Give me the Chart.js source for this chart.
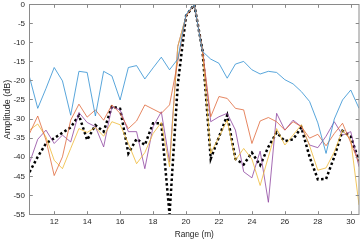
<!DOCTYPE html>
<html><head><meta charset="utf-8">
<script src="https://cdn.jsdelivr.net/npm/chart.js@4"></script>
<style>html,body{margin:0;padding:0;background:#fff}canvas{display:block}</style>
</head><body>
<canvas id="c" width="360" height="240"></canvas>
<script>
const rangeM = [10.5,11,11.5,12,12.5,13,13.5,14,14.5,15,15.5,16,16.5,17,17.5,18,18.5,19,19.5,20,20.5,21,21.5,22,22.5,23,23.5,24,24.5,25,25.5,26,26.5,27,27.5,28,28.5,29,29.5,30,30.5];
const seriesBlue = [-19,-27.2,-22,-16.5,-20,-29,-17.5,-17.8,-29.2,-17.5,-18.7,-25,-16.5,-16,-19.5,-16.6,-13.8,-17.1,-14.3,-2.6,0,-12.3,-14.3,-15.4,-19.3,-15.6,-14.9,-17.1,-18.2,-17.5,-17.8,-19.7,-20.8,-22.8,-25.4,-31,-39,-30,-25,-22.4,-27.2];
const seriesRed = [-33.8,-29.2,-35.5,-44.8,-39.9,-30.3,-26.1,-29.5,-27.6,-30.3,-26.3,-28.5,-32.5,-30.5,-26.3,-27.4,-28.5,-26.3,-15,-3,0,-12,-29.4,-24.1,-24.6,-27.2,-27.6,-36.4,-30.5,-29.6,-30.7,-32.9,-30.7,-32,-35,-34,-37,-33.8,-31.1,-36.2,-41.5];
const seriesYellow = [-32.9,-31.3,-34.7,-40.8,-43,-37.7,-32.5,-33.5,-32.2,-34.5,-30.7,-31.5,-36.4,-41.7,-38.8,-33.8,-30.9,-42.5,-11,-3,0,-12,-39,-34.7,-30.3,-40.8,-37.7,-40.5,-47.4,-39.9,-32.5,-36.8,-34.2,-31.5,-37,-43.4,-42.8,-38.6,-32.9,-35.5,-52.5];
const seriesPurple = [-41.5,-35.3,-32.9,-36.4,-34.2,-36,-28.3,-30.9,-32,-37.3,-26.8,-27.6,-33.3,-33.3,-43,-32,-28.1,-41.2,-11,-3,0,-12,-30.7,-29.4,-28.5,-32.9,-43.8,-45.4,-38.4,-51.8,-28.5,-32.9,-30.3,-32,-36.8,-37.5,-34.5,-30.7,-34.2,-33.3,-42.5];
const seriesBlack = [-43.9,-39.9,-36.4,-35,-33.6,-32.2,-29,-35.5,-31.6,-33.3,-26.7,-27.3,-39,-35.2,-36.8,-31.1,-31.1,-55,-21,-3,0,-12,-40.4,-34.7,-29,-40.4,-41.9,-38.8,-42.1,-37.3,-33.5,-35.8,-35.3,-32.2,-39.9,-45.8,-45.7,-39.9,-33.1,-34.6,-41];
const xTicks = [12,14,16,18,20,22,24,26,28,30];
const yTicks = [-55,-50,-45,-40,-35,-30,-25,-20,-15,-10,-5,0];

const pts = arr => arr.map((v,i)=>({x:rangeM[i], y:v}));
const FAM = '"Liberation Sans", Arial, Helvetica, sans-serif';
const FONT = {family:FAM, size:8};
const TXT = '#262626';

const boxPlugin = {
  id:'box',
  afterDatasetsDraw(chart){
    const {ctx, chartArea:a, scales:{x,y}} = chart;
    ctx.save();
    ctx.strokeStyle = '#8a8a8a';
    ctx.lineWidth = 1;
    ctx.strokeRect(a.left, a.top, a.right-a.left, a.bottom-a.top);
    const tl = 3.3;
    ctx.beginPath();
    xTicks.forEach(v=>{
      const px = Math.round(x.getPixelForValue(v))+0.5;
      ctx.moveTo(px,a.bottom); ctx.lineTo(px,a.bottom-tl);
      ctx.moveTo(px,a.top); ctx.lineTo(px,a.top+tl);
    });
    yTicks.forEach(v=>{
      const py = Math.round(y.getPixelForValue(v)-0.5)+0.5;
      ctx.moveTo(a.left,py); ctx.lineTo(a.left+tl,py);
      ctx.moveTo(a.right,py); ctx.lineTo(a.right-tl,py);
    });
    ctx.stroke();
    ctx.restore();
  }
};

const thin = (data,color)=>({data:pts(data), borderColor:color, borderWidth:0.8, pointRadius:0, tension:0, fill:false});

new Chart(document.getElementById('c'), {
  type:'line',
  data:{datasets:[
    thin(seriesBlue,'#2f8fd2'),
    thin(seriesRed,'#e0683a'),
    thin(seriesYellow,'#efb936'),
    thin(seriesPurple,'#8e45a0'),
    {data:pts(seriesBlack), borderColor:'#000', borderWidth:2.5, borderDash:[2.5,2.5], borderCapStyle:'butt', pointRadius:0, tension:0, fill:false}
  ]},
  options:{
    responsive:false, animation:false, devicePixelRatio:1,
    layout:{padding:{top:4.5,right:1,left:0,bottom:0}},
    plugins:{legend:{display:false}, tooltip:{enabled:false}},
    scales:{
      x:{type:'linear', min:10.5, max:30.5,
        afterBuildTicks: s=>{ s.ticks = xTicks.map(v=>({value:v})); },
        afterFit: s=>{ s.height = 25.5; s.paddingLeft = 0; s.paddingRight = 0; },
        grid:{display:false, drawTicks:false}, border:{display:false},
        ticks:{font:FONT, color:TXT, padding:2.7, maxRotation:0, autoSkip:false},
        title:{display:true, text:'Range (m)', font:{family:FAM, size:8.3}, color:TXT, padding:{top:0,bottom:0.5}}
      },
      y:{type:'linear', min:-55, max:0,
        afterBuildTicks: s=>{ s.ticks = yTicks.map(v=>({value:v})); },
        afterFit: s=>{ s.width = 29.5; s.paddingTop = 0; s.paddingBottom = 0; },
        grid:{display:false, drawTicks:false}, border:{display:false},
        ticks:{font:FONT, color:TXT, padding:4.5, autoSkip:false},
        title:{display:true, text:'Amplitude (dB)', font:{family:FAM, size:9}, color:TXT, padding:{top:1.8,bottom:0}}
      }
    }
  },
  plugins:[boxPlugin]
});
</script>
</body></html>
